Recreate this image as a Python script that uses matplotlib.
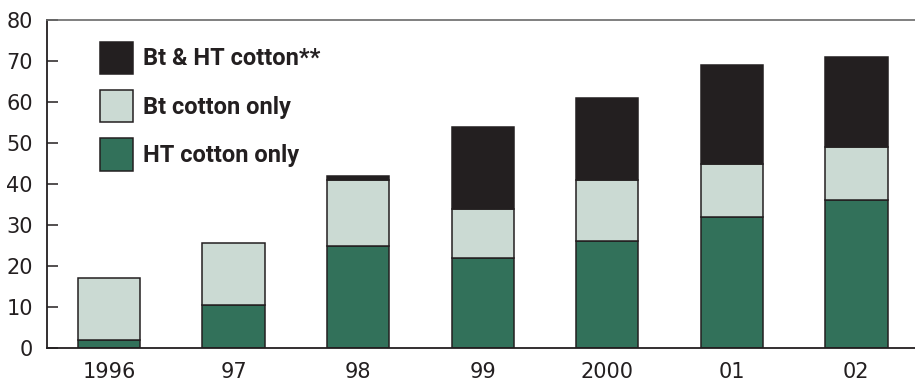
import matplotlib
matplotlib.use("Agg")
import matplotlib.pyplot as plt
import numpy as np

years = ["1996", "97", "98", "99", "2000", "01", "02"]
ht_only = [2, 10.5, 25, 22, 26, 32, 36]
bt_only = [15, 15, 16, 12, 15, 13, 13]
bt_and_ht = [0, 0, 1, 20, 20, 24, 22]

series_labels = ["HT cotton only", "Bt cotton only", "Bt & HT cotton**"]
colors = ["#32715a", "#cbdad3", "#231f20"]
edge = "#231f20"

plt.rcParams["font.family"] = ["DejaVu Sans"]

fig = plt.figure(figsize=(9.15, 3.82), dpi=100)
ax = fig.add_axes([0.051, 0.089, 0.953, 0.8586])

x = np.arange(len(years))
bottom = np.zeros(len(years))
handles = []
for vals, lab, col in zip([ht_only, bt_only, bt_and_ht], series_labels, colors):
    vals = np.array(vals, dtype=float)
    mask = vals > 0
    b = ax.bar(x[mask], vals[mask], width=0.5, bottom=bottom[mask],
               color=col, edgecolor=edge, linewidth=1.1, label=lab)
    handles.append(b)
    bottom += vals

ax.set_xlim(-0.5, 6.5)
ax.set_ylim(0, 80)
ax.set_yticks(np.arange(0, 81, 10))
ax.set_xticks(x)
ax.set_xticklabels(years)

ax.tick_params(axis="y", direction="in", length=8, width=1.1, color="#231f20",
               labelsize=15, pad=10, labelcolor="#231f20")
ax.tick_params(axis="x", length=0, labelsize=15, pad=10, labelcolor="#231f20")

for s in ["left", "bottom"]:
    ax.spines[s].set_color("#231f20")
    ax.spines[s].set_linewidth(1.3)
ax.spines["top"].set_color("#6a6a6a")
ax.spines["top"].set_linewidth(1.2)
ax.spines["right"].set_visible(False)

leg = ax.legend(handles[::-1], series_labels[::-1], loc="upper left",
                bbox_to_anchor=(0.061, 0.934), frameon=False,
                prop={"family": "Roboto", "size": 17, "weight": "bold"},
                handlelength=1.42, handleheight=1.73, handletextpad=0.42,
                labelspacing=0.68, borderaxespad=0, borderpad=0)
for t in leg.get_texts():
    t.set_color("#231f20")

fig.savefig("out.png", dpi=100)
